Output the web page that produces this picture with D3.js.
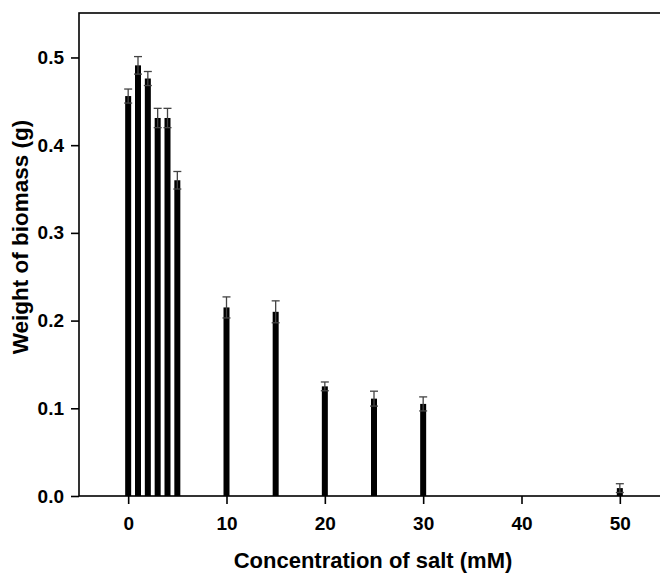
<!DOCTYPE html>
<html><head><meta charset="utf-8">
<script src="https://cdn.jsdelivr.net/npm/d3@7"></script>
<style>body{margin:0;background:#fff}svg{display:block}text{font-family:"Liberation Sans",Arial,sans-serif;font-weight:bold;fill:#000}</style>
</head><body>
<svg id="c" width="660" height="574"></svg>
<script>
const concentrations = [0, 1, 2, 3, 4, 5, 10, 15, 20, 25, 30, 50];
const biomass = [0.456, 0.491, 0.476, 0.431, 0.431, 0.360, 0.215, 0.210, 0.125, 0.111, 0.105, 0.009];
const errors = [0.008, 0.010, 0.008, 0.011, 0.011, 0.010, 0.012, 0.0125, 0.005, 0.0085, 0.008, 0.005];
const xTicks = [0, 10, 20, 30, 40, 50];
const yTicks = [0.0, 0.1, 0.2, 0.3, 0.4, 0.5];

const svg = d3.select("#c");
const L = 79, R = 669, T = 13, B = 496;
const x = d3.scaleLinear().domain([-5, 55]).range([L, R]);
const y = d3.scaleLinear().domain([0, 0.5507]).range([B, T]);

// frame
svg.append("rect").attr("x", L).attr("y", T).attr("width", R - L).attr("height", B - T)
  .attr("fill", "none").attr("stroke", "#000").attr("stroke-width", 1.6);

const data = concentrations.map((c, i) => ({c, v: biomass[i], e: errors[i]}));
const bw = 6;
svg.append("g").selectAll("rect").data(data).join("rect")
  .attr("x", d => x(d.c) - bw / 2).attr("width", bw)
  .attr("y", d => y(d.v)).attr("height", d => y(0) - y(d.v))
  .attr("fill", "#000");

const eg = svg.append("g").attr("stroke", "#444").attr("stroke-width", 1.3);
data.forEach(d => {
  eg.append("line").attr("x1", x(d.c)).attr("x2", x(d.c)).attr("y1", y(d.v + d.e)).attr("y2", y(d.v - d.e));
  [d.v + d.e, d.v - d.e].forEach(v => {
    eg.append("line").attr("x1", x(d.c) - 4).attr("x2", x(d.c) + 4).attr("y1", y(v)).attr("y2", y(v));
  });
});

const xa = svg.append("g").attr("transform", `translate(0,${B})`)
  .call(d3.axisBottom(x).tickValues(xTicks).tickSize(8).tickPadding(13).tickFormat(d3.format("d")));
const ya = svg.append("g").attr("transform", `translate(${L},0)`)
  .call(d3.axisLeft(y).tickValues(yTicks).tickSize(8).tickPadding(7).tickFormat(d3.format(".1f")));
[xa, ya].forEach(a => {
  a.select(".domain").remove();
  a.selectAll("line").attr("stroke", "#000").attr("stroke-width", 1.6);
  a.selectAll("text").style("font-size", "19px").style("font-family", '"Liberation Sans",Arial,sans-serif').style("font-weight", "bold").attr("fill", "#000");
});

svg.append("text").attr("x", (L + R) / 2 - 1).attr("y", 568).attr("text-anchor", "middle")
  .style("font-size", "22px").text("Concentration of salt (mM)");
svg.append("text").attr("transform", "translate(28,237) rotate(-90)").attr("text-anchor", "middle")
  .style("font-size", "22.5px").text("Weight of biomass (g)");
</script>
</body></html>
